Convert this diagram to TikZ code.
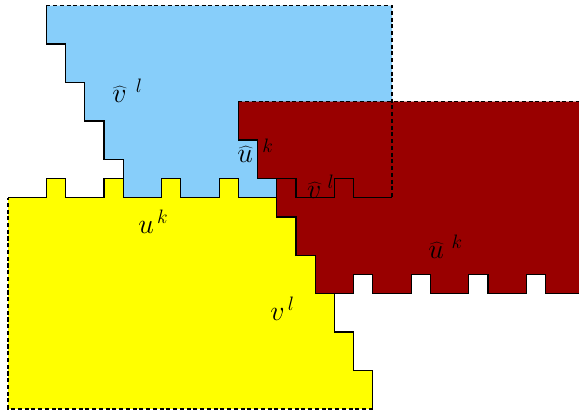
\documentclass[tikz,border=0pt]{standalone}
\usetikzlibrary{calc}
\definecolor{Sky}{HTML}{87CEFA}
\definecolor{Maroon}{HTML}{990000}
\definecolor{Lemon}{HTML}{FFFF00}
\begin{document}
\begin{tikzpicture}[x=0.5cm,y=-0.5cm,
    cut/.style={draw=black,line width=1pt,line join=miter},
    open/.style={draw=black,line width=1pt,dash pattern=on 3pt off 2pt},
    lbl/.style={font=\huge,inner sep=0pt,anchor=base west}]
  \useasboundingbox (-0.417,-0.294) rectangle (29.74,21.06);
  % fills
  \fill[Lemon] (0,10) \foreach \t in {2,5,8,11} {-- (\t,10) -- (\t,9) -- (\t+1,9) -- (\t+1,10)}
    -- (14,10) -- (14,11) -- (15,11) -- (15,13) -- (16,13) -- (16,15) -- (17,15) -- (17,17)
    -- (18,17) -- (18,19) -- (19,19) -- (19,21) -- (0,21) -- cycle;
  \fill[Sky] (2,0) -- (20,0) -- (20,10) \foreach \t in {17,14,11,8} {-- (\t+1,10) -- (\t+1,9) -- (\t,9) -- (\t,10)}
    -- (6,10) -- (6,8) -- (5,8) -- (5,6) -- (4,6) -- (4,4) -- (3,4) -- (3,2) -- (2,2) -- cycle;
  \fill[Maroon] (12,5) -- (30.5,5) -- (30.5,15) \foreach \t in {27,24,21,18} {-- (\t+1,15) -- (\t+1,14) -- (\t,14) -- (\t,15)}
    -- (16,15) -- (16,13) -- (15,13) -- (15,11) -- (14,11) -- (14,9) -- (13,9) -- (13,7) -- (12,7) -- cycle;
  % outlines
  \draw[cut] (0,10) \foreach \t in {2,5,8,11} {-- (\t,10) -- (\t,9) -- (\t+1,9) -- (\t+1,10)}
    -- (14,10) -- (14,11) -- (15,11) -- (15,13) -- (16,13) -- (16,15) -- (17,15) -- (17,17)
    -- (18,17) -- (18,19) -- (19,19) -- (19,21);
  \draw[open] (19,21) -- (0,21) -- (0,10);
  \draw[cut] (20,10) \foreach \t in {17,14,11,8} {-- (\t+1,10) -- (\t+1,9) -- (\t,9) -- (\t,10)}
    -- (6,10) -- (6,8) -- (5,8) -- (5,6) -- (4,6) -- (4,4) -- (3,4) -- (3,2) -- (2,2) -- (2,0);
  \draw[open] (2,0) -- (20,0) -- (20,10);
  \draw[cut] (30.5,15) \foreach \t in {27,24,21,18} {-- (\t+1,15) -- (\t+1,14) -- (\t,14) -- (\t,15)}
    -- (16,15) -- (16,13) -- (15,13) -- (15,11) -- (14,11) -- (14,9) -- (13,9) -- (13,7) -- (12,7) -- (12,5);
  \draw[open] (12,5) -- (30.5,5) -- (30.5,15);
  % labels
  \node[lbl] (vhatL) at (5.42,5.05) {$\widehat{v}\mkern6mu{}^{l}$};
  \node[lbl] (uhatL) at (11.93,8.18) {$\widehat{u}\mkern6mu{}^{k}$};
  \node[lbl] (vhatR) at (15.57,10.05) {$\widehat{v}\mkern4mu{}^{l}$};
  \node[lbl] (uK) at (6.77,11.875) {$u^{\,k}$};
  \node[lbl] (uhatR) at (21.875,13.18) {$\widehat{u}\mkern5mu{}^{k}$};
  \node[lbl] (vL) at (13.65,16.4) {$v^{\,l}$};
\end{tikzpicture}
\end{document}
